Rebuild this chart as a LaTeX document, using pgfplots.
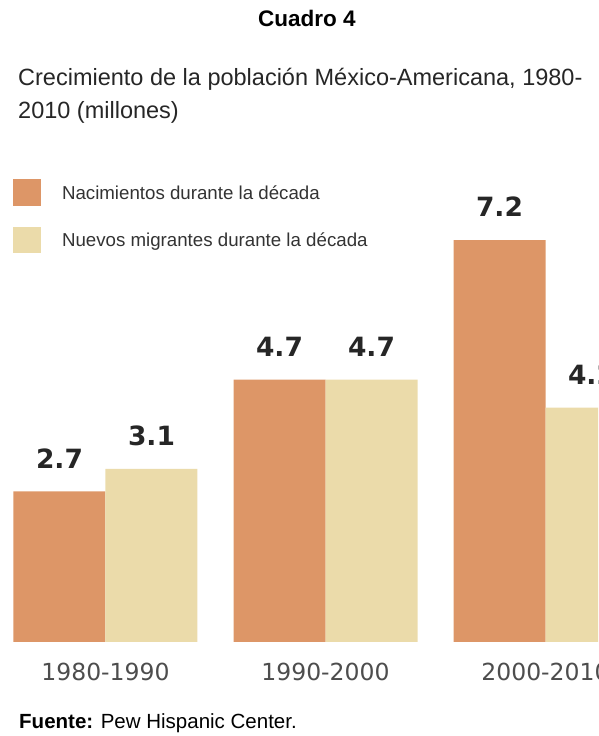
\documentclass[border=0pt]{standalone}
\usepackage{pgfplots}
\pgfplotsset{compat=1.18}
\usepackage{fontspec}
\setmainfont{Liberation Sans}
\newfontfamily\dejavu{DejaVu Sans}
\definecolor{nac}{RGB}{221,150,103}
\definecolor{mig}{RGB}{235,219,170}
\definecolor{tickgray}{RGB}{77,77,77}
\begin{document}
\begin{tikzpicture}[x=1pt,y=1pt]
\useasboundingbox (0,0) rectangle (598,736);
\clip (0,0) rectangle (598,736);
\node[anchor=base, inner sep=0pt, font=\bfseries\fontsize{22.5}{26}\selectfont] at (307,709) {Cuadro 4};
\node[anchor=base west, inner sep=0pt, font=\fontsize{23.5}{28}\selectfont, text=black!85] at (18,650) {Crecimiento de la población México-Americana, 1980-};
\node[anchor=base west, inner sep=0pt, font=\fontsize{23.5}{28}\selectfont, text=black!85] at (18,617) {2010 (millones)};
\node[anchor=base west, inner sep=0pt, font=\fontsize{20.5}{24}\selectfont] at (19,7) {\textbf{Fuente:} Pew Hispanic Center.};
\begin{axis}[
  at={(0pt,94pt)}, anchor=south west,
  scale only axis, width=598pt, height=502.5pt,
  xmin=-0.4795, xmax=2.2386, ymin=0, ymax=9,
  ybar=0pt, bar width=92pt,
  axis line style={draw=none}, tick style={draw=none}, ytick=\empty,
  xtick={0,1,2}, xticklabels={1980-1990,1990-2000,2000-2010},
  xticklabel style={font=\dejavu\fontsize{23.5}{28}\selectfont, text=tickgray, anchor=base, yshift=-34.5pt, inner sep=0pt},
  /pgf/number format/assume math mode=true,
  nodes near coords={\pgfmathprintnumber[fixed,precision=1,fixed zerofill,assume math mode=true]{\pgfplotspointmeta}},
  nodes near coords style={font=\dejavu\bfseries\fontsize{26.5}{30}\selectfont, text=black!85, anchor=south, inner sep=0pt, yshift=23pt},
  legend style={at={(axis description cs:0.02174,0.9214)}, anchor=north west, draw=none, fill=none, inner sep=0pt, outer sep=0pt, row sep=21pt, column sep=0pt,
    nodes={inner sep=0pt, anchor=base west, font=\fontsize{18.7}{22}\selectfont, text=black!80}},
  legend cell align=left,
  /tikz/every odd column/.append style={column sep=21pt},
]
\addplot[fill=nac, draw=none, legend image code/.code={\fill[nac] (0pt,-6.5pt) rectangle (28pt,20pt);}] coordinates {(0,2.7) (1,4.7) (2,7.2)};
\addplot[fill=mig, draw=none, legend image code/.code={\fill[mig] (0pt,-6.5pt) rectangle (28pt,20pt);}] coordinates {(0,3.1) (1,4.7) (2,4.2)};
\legend{Nacimientos durante la década, Nuevos migrantes durante la década}
\end{axis}
\end{tikzpicture}
\end{document}
